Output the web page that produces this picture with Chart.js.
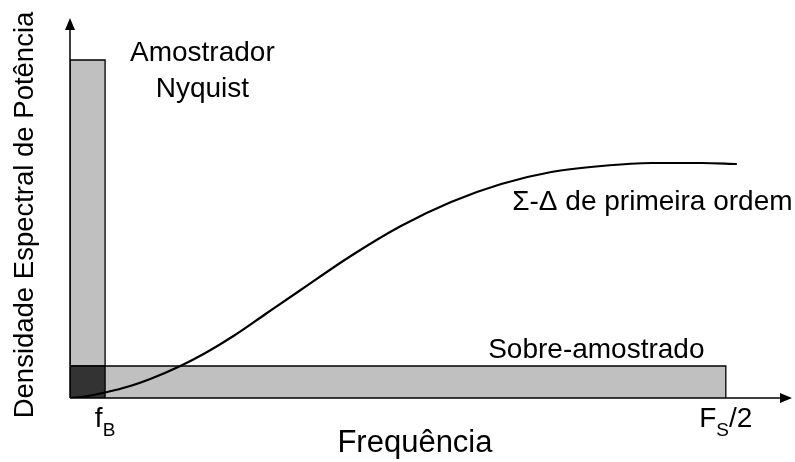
<!DOCTYPE html>
<html>
<head>
<meta charset="utf-8">
<script src="https://cdn.jsdelivr.net/npm/chart.js@4.4.1/dist/chart.umd.min.js"></script>
<style>
  html, body { margin: 0; padding: 0; background: #fff; }
  #wrap { width: 795px; height: 462px; }
</style>
</head>
<body>
<div id="wrap"><canvas id="psd"></canvas></div>
<script>
// schematic units: frequency 0..720, power density 0..380
const fB = 35;
const fsHalf = 654;
const nyquistLevel = 338;
const overLevel = 32;

// first-order sigma-delta noise shaping curve
const sdFreq  = [0, 15,  35,  60, 80, 110, 135, 163, 195, 230, 280, 330, 380, 430, 480, 530, 580, 630, 665];
const sdPower = [0, 1.5, 5.5, 12, 19, 32,  45,  62,  84,  108, 142, 172, 196, 214, 226, 232, 235, 235, 234];

const tickValues = [fB, fsHalf];
const tickLabels = [['f', 'B', ''], ['F', 'S', '/2']];

const GRAY = '#c0c0c0';
const DARK = '#333333';
const FONT = '"Liberation Sans", Arial, sans-serif';

const rect = (x0, x1, h) => [{x: x0, y: 0}, {x: x0, y: h}, {x: x1, y: h}, {x: x1, y: 0}];

const boxStyle = (fillColor) => ({
  showLine: true, fill: 'origin', backgroundColor: fillColor,
  borderColor: '#000', borderWidth: 1.3, pointRadius: 0, tension: 0
});

// axes with arrows, tick labels and annotations
const overlay = {
  id: 'overlay',
  afterDraw(chart) {
    const { ctx, scales: { x, y } } = chart;
    const x0 = x.getPixelForValue(0), y0 = y.getPixelForValue(0);
    const xEnd = x.right, yEnd = y.top;
    ctx.save();
    ctx.strokeStyle = '#000';
    ctx.fillStyle = '#000';
    ctx.lineWidth = 1.5;
    ctx.beginPath();
    ctx.moveTo(x0, y0); ctx.lineTo(xEnd - 8, y0);
    ctx.moveTo(x0, y0); ctx.lineTo(x0, yEnd + 8);
    ctx.stroke();
    ctx.beginPath();
    ctx.moveTo(xEnd, y0); ctx.lineTo(xEnd - 12, y0 - 5); ctx.lineTo(xEnd - 12, y0 + 5); ctx.closePath();
    ctx.moveTo(x0, yEnd); ctx.lineTo(x0 - 5, yEnd + 12); ctx.lineTo(x0 + 5, yEnd + 12); ctx.closePath();
    ctx.fill();

    // tick labels with subscripts, centred on the tick
    const big = '28px ' + FONT, small = '19px ' + FONT;
    tickValues.forEach((v, i) => {
      const [main, sub, rest] = tickLabels[i];
      ctx.font = big;
      const w1 = ctx.measureText(main).width, w3 = ctx.measureText(rest).width;
      ctx.font = small;
      const w2 = ctx.measureText(sub).width;
      let px = x.getPixelForValue(v) - (w1 + w2 + w3) / 2;
      const base = y0 + 29;
      ctx.textAlign = 'left';
      ctx.textBaseline = 'alphabetic';
      ctx.font = big;
      ctx.fillText(main, px, base);
      px += w1;
      ctx.font = small;
      ctx.fillText(sub, px, base + 9);
      px += w2;
      ctx.font = big;
      if (rest) ctx.fillText(rest, px, base);
    });

    ctx.font = '28px ' + FONT;
    ctx.textBaseline = 'middle';
    ctx.textAlign = 'center';
    ctx.fillText('Amostrador', x.getPixelForValue(132), y.getPixelForValue(345));
    ctx.fillText('Nyquist', x.getPixelForValue(132), y.getPixelForValue(309));
    ctx.textAlign = 'left';
    ctx.fillText('Σ-Δ de primeira ordem', x.getPixelForValue(441), y.getPixelForValue(196));
    ctx.fillText('Sobre-amostrado', x.getPixelForValue(417), y.getPixelForValue(48));

    ctx.font = '31px ' + FONT;
    ctx.textAlign = 'center';
    ctx.fillText('Frequência', x.getPixelForValue(344), y0 + 45);

    ctx.font = '27.5px ' + FONT;
    ctx.translate(25, (y0 + yEnd) / 2 + 7);
    ctx.rotate(-Math.PI / 2);
    ctx.fillText('Densidade Espectral de Potência', 0, 0);
    ctx.restore();
  }
};

new Chart(document.getElementById('psd'), {
  type: 'scatter',
  data: {
    datasets: [
      { data: rect(0, fB, nyquistLevel), ...boxStyle(GRAY), order: 4 },
      { data: rect(0, fsHalf, overLevel), ...boxStyle(GRAY), order: 3 },
      { data: rect(0, fB, overLevel), ...boxStyle(DARK), order: 2 },
      {
        data: sdFreq.map((f, i) => ({ x: f, y: sdPower[i] })),
        showLine: true, fill: false, borderColor: '#000', borderWidth: 2.2,
        pointRadius: 0, cubicInterpolationMode: 'monotone', order: 1
      }
    ]
  },
  options: {
    responsive: true,
    maintainAspectRatio: false,
    animation: false,
    layout: { padding: { left: 70, right: 3, top: 18, bottom: 64 } },
    plugins: { legend: { display: false }, tooltip: { enabled: false } },
    scales: {
      x: { type: 'linear', min: 0, max: 720, display: false },
      y: { type: 'linear', min: 0, max: 380, display: false }
    }
  },
  plugins: [overlay]
});
</script>
</body>
</html>
